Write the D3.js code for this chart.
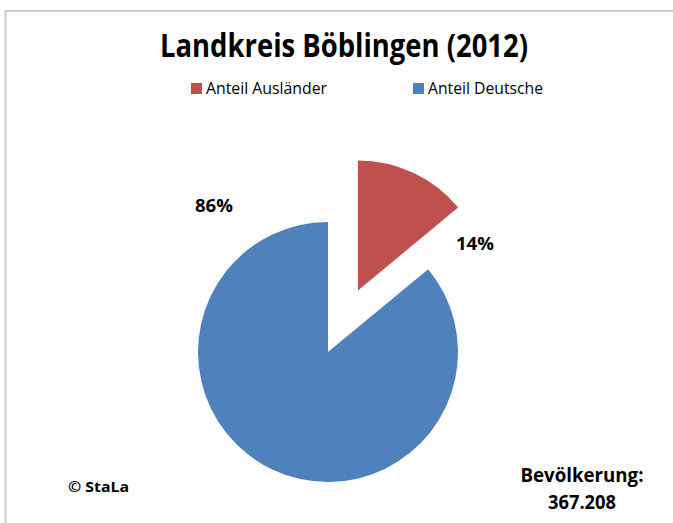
<!DOCTYPE html>
<html>
<head>
<meta charset="utf-8">
<script src="https://cdn.jsdelivr.net/npm/d3@7"></script>
<style>
  body { margin: 0; background: #fff; }
  text { font-family: "Open Sans", "Liberation Sans", sans-serif; }
</style>
</head>
<body>
<div id="chart"></div>
<script>
// data
var categories = ["Anteil Ausländer", "Anteil Deutsche"];
var shares = [14, 86];
var colors = ["#C0504D", "#4F81BD"];
var population = "367.208";

var width = 673, height = 523;

var svg = d3.select("#chart")
    .append("svg")
    .attr("width", width)
    .attr("height", height);

// chart area border (only top and left visible)
svg.append("path")
    .attr("d", "M5.5,523 L5.5,11 L673,11")
    .attr("fill", "none")
    .attr("stroke", "#cccccc")
    .attr("stroke-width", 2);

// title
svg.append("text")
    .attr("x", 344)
    .attr("y", 57)
    .attr("text-anchor", "middle")
    .attr("textLength", 368)
    .attr("lengthAdjust", "spacingAndGlyphs")
    .style("font-size", "33px")
    .style("font-weight", "bold")
    .text("Landkreis Böblingen (2012)");

// legend
var legendX = [191, 413];
var legendW = [121, 115];
var legend = svg.selectAll(".legend")
    .data(categories)
    .enter()
    .append("g")
    .attr("transform", function (d, i) { return "translate(" + legendX[i] + ",83)"; });

legend.append("rect")
    .attr("width", 11)
    .attr("height", 11)
    .attr("fill", function (d, i) { return colors[i]; });

legend.append("text")
    .attr("x", 15)
    .attr("y", 11)
    .attr("textLength", function (d, i) { return legendW[i]; })
    .attr("lengthAdjust", "spacingAndGlyphs")
    .style("font-size", "16px")
    .text(function (d) { return d; });

// pie
var cx = 328, cy = 352, r = 130, explode = 68;

var pie = d3.pie().sort(null).value(function (d) { return d; });
var arc = d3.arc().innerRadius(0).outerRadius(r);
var arcs = pie(shares);

var g = svg.append("g")
    .attr("transform", "translate(" + cx + "," + cy + ")");

g.selectAll(".slice")
    .data(arcs)
    .enter()
    .append("path")
    .attr("transform", function (d, i) {
        if (i !== 0) return null;
        var a = (d.startAngle + d.endAngle) / 2;
        return "translate(" + (explode * Math.sin(a) + 1) + "," + (-explode * Math.cos(a)) + ")";
    })
    .attr("d", arc)
    .attr("fill", function (d, i) { return colors[i]; });

// data labels
var labelPos = [[475, 250], [214, 212]];
svg.selectAll(".dlabel")
    .data(arcs)
    .enter()
    .append("text")
    .attr("x", function (d, i) { return labelPos[i][0]; })
    .attr("y", function (d, i) { return labelPos[i][1]; })
    .attr("text-anchor", "middle")
    .attr("textLength", 38)
    .attr("lengthAdjust", "spacingAndGlyphs")
    .style("font-size", "18px")
    .style("font-weight", "bold")
    .text(function (d) { return d.data + "%"; });

// source
svg.append("text")
    .attr("x", 68)
    .attr("y", 492)
    .attr("textLength", 61)
    .attr("lengthAdjust", "spacingAndGlyphs")
    .style("font-size", "15px")
    .style("font-weight", "bold")
    .text("© StaLa");

// population note
svg.append("text")
    .attr("x", 582)
    .attr("y", 482)
    .attr("text-anchor", "middle")
    .attr("textLength", 123)
    .attr("lengthAdjust", "spacingAndGlyphs")
    .style("font-size", "19px")
    .style("font-weight", "bold")
    .text("Bevölkerung:");

svg.append("text")
    .attr("x", 582)
    .attr("y", 509)
    .attr("text-anchor", "middle")
    .attr("textLength", 68)
    .attr("lengthAdjust", "spacingAndGlyphs")
    .style("font-size", "20px")
    .style("font-weight", "bold")
    .text(population);
</script>
</body>
</html>
